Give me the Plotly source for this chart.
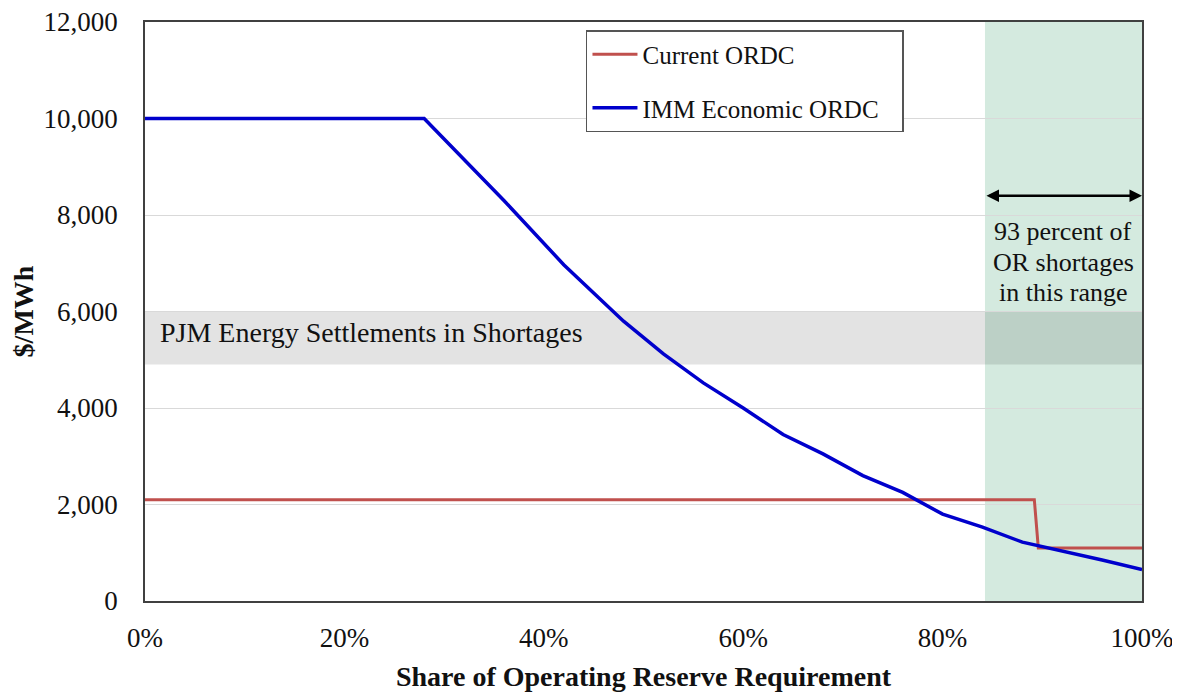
import plotly.graph_objects as go

# ---- data ----
share_imm = [0, 28, 36, 42, 48, 52, 56, 60, 64, 68, 72, 76, 80, 84, 88, 92, 96, 100]
price_imm = [10000, 10000, 8300, 6970, 5800, 5120, 4520, 4000, 3450, 3050, 2600, 2250, 1800, 1530, 1220, 1040, 850, 650]

share_current = [0, 89.2, 89.6, 100]
price_current = [2100, 2100, 1100, 1100]

settle_band = [4900, 6000]      # PJM energy settlements in shortages ($/MWh)
shortage_range = [84.25, 100]   # share range holding 93% of OR shortages

x_ticks = [0, 20, 40, 60, 80, 100]
y_ticks = [0, 2000, 4000, 6000, 8000, 10000, 12000]

range_note = ["93 percent of", "OR shortages", "in this range"]

FONT = "Liberation Serif, Times New Roman, serif"
INK = "#111111"

fig = go.Figure()

fig.add_trace(go.Scatter(
    x=share_current, y=price_current, mode="lines", name="Current ORDC",
    line=dict(color="#c0504d", width=3), legendgroup="a"))
fig.add_trace(go.Scatter(
    x=share_imm, y=price_imm, mode="lines", name="IMM Economic ORDC\u00a0\u00a0\u00a0",
    line=dict(color="#0000cc", width=3.5), legendgroup="b"))

# shaded regions
fig.add_shape(type="rect", xref="x", yref="y",
              x0=shortage_range[0], x1=shortage_range[1], y0=0, y1=12000,
              fillcolor="#d4eadf", line=dict(width=0), layer="below")
fig.add_shape(type="rect", xref="x", yref="y",
              x0=0, x1=100, y0=settle_band[0], y1=settle_band[1],
              fillcolor="rgba(0,0,0,0.11)", line=dict(width=0), layer="below")

fig.add_annotation(x=1.3, y=5560, xref="x", yref="y", text="PJM Energy Settlements in Shortages",
                   showarrow=False, xanchor="left", yanchor="middle",
                   font=dict(family=FONT, size=28, color=INK))

# double-headed arrow
fig.add_annotation(x=shortage_range[1], y=8400, ax=shortage_range[0], ay=8400,
                   xref="x", yref="y", axref="x", ayref="y", text="",
                   showarrow=True, arrowhead=2, arrowside="end+start",
                   arrowwidth=2.5, arrowsize=1, arrowcolor="#000000")
note_y = [7660, 7010, 6390]
for txt, yy in zip(range_note, note_y):
    fig.add_annotation(x=(shortage_range[0] + shortage_range[1]) / 2, y=yy, xref="x", yref="y",
                       text=txt, showarrow=False, xanchor="center", yanchor="middle",
                       font=dict(family=FONT, size=26, color=INK))

fig.update_layout(
    width=1180, height=693,
    margin=dict(l=137, r=46, t=14, b=100, autoexpand=False),
    paper_bgcolor="white", plot_bgcolor="white",
    font=dict(family=FONT, size=25, color=INK),
    showlegend=True,
    legend=dict(x=0.4423, y=0.986, xanchor="left", yanchor="top",
                bgcolor="white", bordercolor="#555555", borderwidth=1.5,
                font=dict(family=FONT, size=25, color=INK),
                traceorder="grouped", tracegroupgap=18, itemwidth=45),
    xaxis=dict(range=[0, 100], tickvals=x_ticks, ticktext=[f"{v}%" for v in x_ticks],
               showgrid=False, zeroline=False, showline=True, linecolor="#404040",
               linewidth=1.5, mirror=True, ticks="", ticklabelstandoff=12,
               ticklabeloverflow="allow",
               tickfont=dict(family=FONT, size=27, color=INK),
               title=dict(text="<b>Share of Operating Reserve Requirement</b>",
                          font=dict(family=FONT, size=28, color=INK), standoff=14),
               automargin=False),
    yaxis=dict(range=[0, 12000], tickvals=y_ticks, ticktext=[f"{v:,}" for v in y_ticks],
               showgrid=True, gridcolor="#d9d9d9", gridwidth=1.2, zeroline=False,
               showline=True, linecolor="#404040", linewidth=1.5, mirror=True,
               ticks="", ticklabelstandoff=20, ticklabeloverflow="allow",
               tickfont=dict(family=FONT, size=27, color=INK),
               title=dict(text="<b>$/MWh</b>", font=dict(family=FONT, size=28, color=INK),
                          standoff=18),
               automargin=False),
)

fig.write_html("out.html")
